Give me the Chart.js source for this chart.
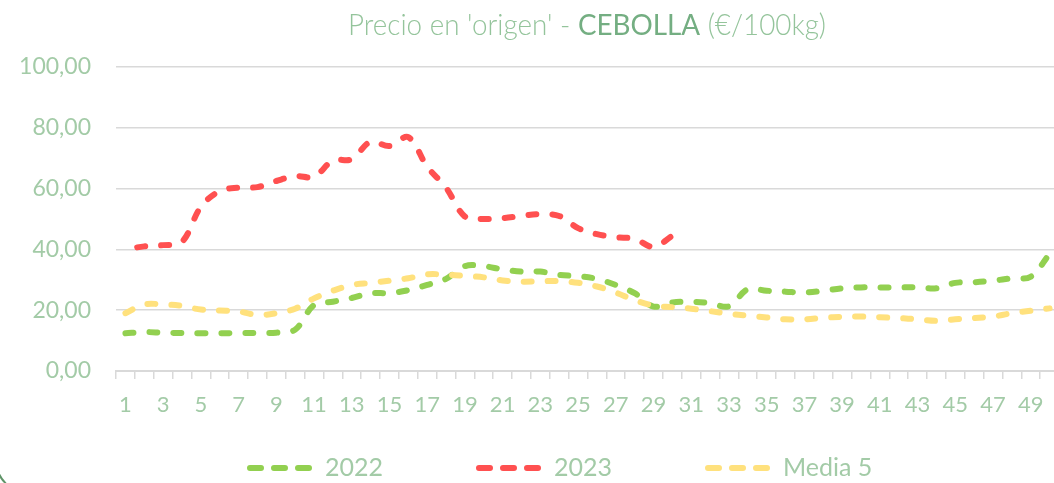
<!DOCTYPE html>
<html>
<head>
<meta charset="utf-8">
<script src="https://cdn.jsdelivr.net/npm/chart.js@4.4.0/dist/chart.umd.min.js"></script>
<style>
html,body{margin:0;padding:0;background:#ffffff;overflow:hidden;}
#wrap{position:relative;width:1066px;height:483px;}
#corner{position:absolute;left:-5px;top:-200px;width:3000px;height:690px;border:2px solid #5f9468;border-radius:34px;pointer-events:none;}
</style>
</head>
<body>
<div id="wrap"><canvas id="c" width="1066" height="483"></canvas><div id="corner"></div></div>
<script>
// ---- data ----
const weeks = ['1','2','3','4','5','6','7','8','9','10','11','12','13','14','15','16','17','18','19','20','21','22','23','24','25','26','27','28','29','30','31','32','33','34','35','36','37','38','39','40','41','42','43','44','45','46','47','48','49','50'];
const serie2022 = [12.4,12.8,12.6,12.5,12.4,12.4,12.5,12.5,12.6,13.6,21.7,22.8,24.0,25.6,25.6,26.6,28.3,30.3,34.5,34.5,33.4,32.7,32.7,31.6,31.2,30.3,28.3,25.6,21.2,22.5,22.8,22.3,21.3,26.9,26.4,26.1,25.8,26.4,27.2,27.5,27.5,27.5,27.5,27.2,29.0,29.2,29.7,30.5,31.0,38.5];
const serie2023 = [40.0,41.0,41.4,42.5,54.0,59.2,60.3,60.5,62.5,64.1,63.9,69.2,69.7,75.4,74.0,76.9,67.2,60.3,50.8,50.0,50.3,51.0,51.6,51.0,47.0,45.0,44.0,43.5,40.8,44.5];
const media5 = [19.0,21.9,21.9,21.4,20.2,19.9,19.6,18.4,19.0,20.5,23.9,26.4,28.3,29.0,29.7,30.5,31.8,31.7,31.3,30.8,29.8,29.4,29.5,29.6,29.0,27.8,25.8,23.3,21.5,21.0,20.5,19.7,18.8,18.2,17.6,17.0,17.0,17.5,17.8,17.9,17.7,17.4,17.0,16.5,17.0,17.4,17.9,19.0,19.8,20.6];
const seriesNames = ['2022','2023','Media 5'];
const yTicks = [0,20,40,60,80,100];
const titleParts = ["Precio en 'origen' - ", "CEBOLLA", " (€/100kg)"];

const COLORS = ['#92d050','#ff5050','#ffe17d'];
const LABEL_COLOR = '#a3cba7';

const titlePlugin = {
  id: 'mixedTitle',
  afterDraw(chart) {
    const ctx = chart.ctx;
    const styles = [
      {font: '300 29px Lato', color: '#94c49b'},
      {font: '400 29px Lato', color: '#74ae82'},
      {font: '300 29px Lato', color: '#94c49b'}
    ];
    ctx.save();
    let total = 0;
    const widths = titleParts.map((t, i) => { ctx.font = styles[i].font; const w = ctx.measureText(t).width; total += w; return w; });
    const targetW = 478, left = 348, baseline = 35;
    ctx.translate(left, baseline);
    ctx.scale(targetW / total, 1);
    ctx.textBaseline = 'alphabetic';
    ctx.textAlign = 'left';
    let x = 0;
    titleParts.forEach((t, i) => { ctx.font = styles[i].font; ctx.fillStyle = styles[i].color; ctx.fillText(t, x, 0); x += widths[i]; });
    ctx.restore();
  }
};

const legendPlugin = {
  id: 'dashLegend',
  afterDraw(chart) {
    const ctx = chart.ctx;
    ctx.save();
    ctx.font = '25px Lato';
    let x = 247;
    const y = 468;
    seriesNames.forEach((name, i) => {
      ctx.strokeStyle = COLORS[i];
      ctx.lineWidth = 6;
      ctx.lineCap = 'round';
      ctx.setLineDash([11, 13]);
      ctx.beginPath();
      ctx.moveTo(x + 3, y);
      ctx.lineTo(x + 3 + 59, y);
      ctx.stroke();
      ctx.setLineDash([]);
      ctx.fillStyle = LABEL_COLOR;
      ctx.textBaseline = 'middle';
      ctx.fillText(name, x + 78, y);
      x += 78 + ctx.measureText(name).width + 93;
    });
    ctx.restore();
  }
};

const mk = (label, data, color, order, dashOffset) => ({
  label, data, borderColor: color, backgroundColor: color,
  borderWidth: 6, borderDash: [8, 16], borderDashOffset: dashOffset, borderCapStyle: 'round', borderJoinStyle: 'round',
  pointRadius: 0, pointHoverRadius: 0, tension: 0.35, fill: false, order
});

new Chart(document.getElementById('c'), {
  type: 'line',
  data: {
    labels: weeks,
    datasets: [
      mk(seriesNames[0], serie2022, COLORS[0], 2, 0),
      mk(seriesNames[1], serie2023, COLORS[1], 1, 12),
      mk(seriesNames[2], media5, COLORS[2], 0, 0)
    ]
  },
  options: {
    responsive: false,
    animation: false,
    layout: { padding: { top: 67, left: 0, right: 7, bottom: 0 } },
    plugins: { legend: { display: false }, title: { display: false }, tooltip: { enabled: false } },
    scales: {
      x: {
        offset: true,
        grid: { display: true, drawOnChartArea: false, drawTicks: true, tickLength: 8, color: '#d9d9d9', lineWidth: 1.5, offset: true },
        border: { display: true, color: '#d9d9d9', width: 2 },
        ticks: {
          autoSkip: false, maxRotation: 0, minRotation: 0, padding: 13,
          font: { family: 'Lato', size: 22 }, color: LABEL_COLOR,
          callback: (v, i) => (i % 2 === 0 ? weeks[i] : '')
        },
        afterFit: s => { s.height = 112; }
      },
      y: {
        min: 0, max: 100,
        afterBuildTicks: s => { s.ticks = yTicks.map(v => ({ value: v })); },
        grid: { color: '#d9d9d9', lineWidth: 1.5, drawTicks: false },
        border: { display: false },
        ticks: {
          padding: 25, font: { family: 'Lato', size: 23 }, color: LABEL_COLOR,
          callback: v => v.toFixed(2).replace('.', ',')
        },
        afterFit: s => { s.width = 116; }
      }
    }
  },
  plugins: [titlePlugin, legendPlugin]
});
</script>
</body>
</html>
